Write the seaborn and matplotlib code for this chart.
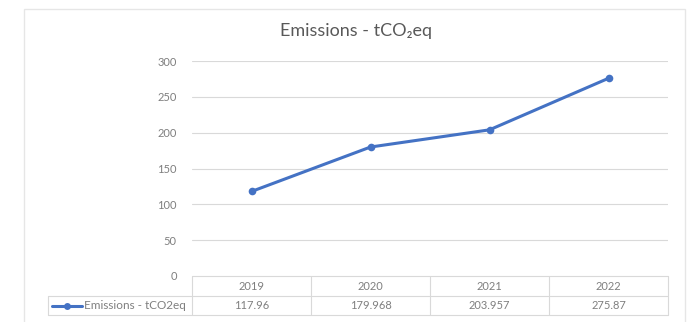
import matplotlib
matplotlib.use("Agg")
import matplotlib.pyplot as plt
import matplotlib.transforms as mtransforms
import pandas as pd
import seaborn as sns

years = [2019, 2020, 2021, 2022]
emissions = [117.96, 179.968, 203.957, 275.87]
value_labels = ["117.96", "179.968", "203.957", "275.87"]
series_name = "Emissions - tCO2eq"
yticks = [0, 50, 100, 150, 200, 250, 300]

df = pd.DataFrame({"year": years, "emissions": emissions})

sns.set_style("white")
plt.rcParams["font.family"] = ["Lato", "DejaVu Sans"]

blue = "#4472C4"
grid_c = "#d9d9d9"
txt_c = "#7f7f7f"

fig = plt.figure(figsize=(6.91, 3.22), dpi=100)
ax = fig.add_axes([192 / 691, 1 - 276 / 322, 476 / 691, 215 / 322])

# chart frame
fig.patches.append(plt.Rectangle((24 / 691, -0.1), 661 / 691, 1.1 - 9 / 322,
                                 transform=fig.transFigure, fill=False,
                                 edgecolor="#e6e6e6", linewidth=1))

for v in yticks[1:]:
    ax.axhline(v, color=grid_c, linewidth=0.8, zorder=0)

sns.lineplot(data=df, x="year", y="emissions", color=blue, linewidth=2.2,
             marker="o", markersize=5.5, markeredgewidth=0, ax=ax, zorder=3)

ax.set_xlim(2018.5, 2022.5)
ax.set_ylim(0, 300)
ax.set_yticks(yticks)
ax.set_xticks([])
ax.set_xlabel("")
ax.set_ylabel("")
ax.tick_params(axis="y", length=0, pad=11, labelsize=8, labelcolor=txt_c)
for s in ax.spines.values():
    s.set_visible(False)

fig.text(356 / 691, 1 - 31 / 322, "Emissions - tCO₂eq", ha="center", va="center",
         fontsize=13, color="#595959")

# data table under the plot
tr = ax.transAxes
y_top, y_mid, y_bot = 0, -20 / 215, -39 / 215
x_leg = (48 - 192) / 476
ax.plot([0, 1], [y_top, y_top], color=grid_c, lw=0.8, transform=tr, clip_on=False)
ax.plot([x_leg, 1], [y_mid, y_mid], color=grid_c, lw=0.8, transform=tr, clip_on=False)
ax.plot([x_leg, 1], [y_bot, y_bot], color=grid_c, lw=0.8, transform=tr, clip_on=False)
ax.plot([x_leg, x_leg], [y_mid, y_bot], color=grid_c, lw=0.8, transform=tr, clip_on=False)
for k in range(len(years) + 1):
    xk = k / len(years)
    ax.plot([xk, xk], [y_top, y_bot], color=grid_c, lw=0.8, transform=tr, clip_on=False)

blend = mtransforms.blended_transform_factory(ax.transData, ax.transAxes)
for yr, lab in zip(years, value_labels):
    ax.text(yr, (y_top + y_mid) / 2, str(yr), transform=blend, ha="center",
            va="center", fontsize=8, color=txt_c)
    ax.text(yr, (y_mid + y_bot) / 2, lab, transform=blend, ha="center",
            va="center", fontsize=8, color=txt_c)

ym = (y_mid + y_bot) / 2
ax.plot([(52 - 192) / 476, (82 - 192) / 476], [ym, ym], color=blue, lw=2.2,
        transform=tr, clip_on=False)
ax.plot([(67 - 192) / 476], [ym], marker="o", ms=5, mew=0, color=blue,
        transform=tr, clip_on=False)
ax.text((84 - 192) / 476, ym, series_name, transform=tr, ha="left", va="center",
        fontsize=8.5, color=txt_c)

fig.savefig("out.png", dpi=100)
